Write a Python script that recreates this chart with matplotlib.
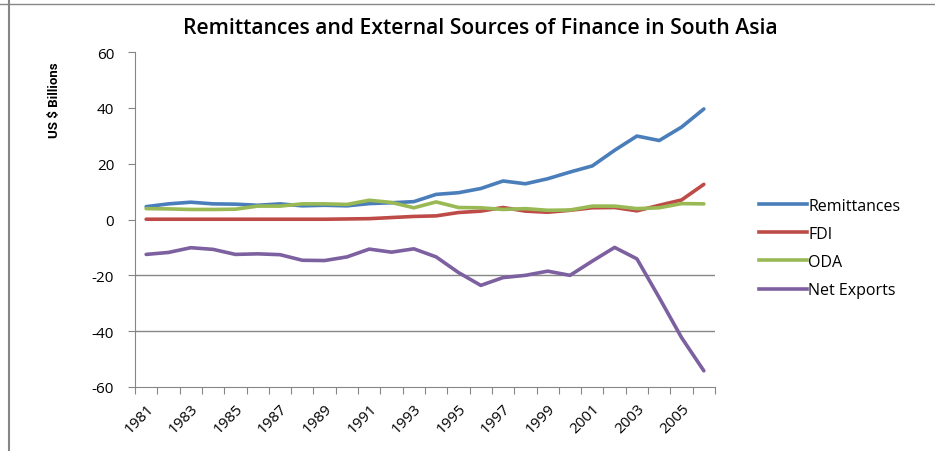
import numpy as np
import matplotlib.pyplot as plt
from matplotlib.lines import Line2D

years = list(range(1981, 2007))

remittances = [4.6, 5.6, 6.2, 5.6, 5.5, 5.1, 5.6, 4.9, 5.1, 4.9, 5.7, 6.0, 6.4,
               9.0, 9.6, 11.1, 13.8, 12.8, 14.6, 17.0, 19.2, 24.8, 29.9, 28.3, 33.1, 39.6]
fdi = [0.1, 0.1, 0.1, 0.1, 0.1, 0.1, 0.1, 0.1, 0.1, 0.2, 0.3, 0.7, 1.1,
       1.3, 2.5, 3.0, 4.3, 3.0, 2.6, 3.3, 4.2, 4.3, 3.1, 5.1, 7.0, 12.6]
oda = [3.9, 3.8, 3.6, 3.6, 3.7, 4.8, 4.8, 5.6, 5.6, 5.4, 6.9, 6.1, 4.2,
       6.3, 4.3, 4.2, 3.6, 3.9, 3.3, 3.4, 4.8, 4.8, 3.9, 4.2, 5.7, 5.6]
net_exports = [-12.5, -11.8, -10.1, -10.7, -12.5, -12.3, -12.6, -14.6, -14.7, -13.4,
               -10.6, -11.7, -10.5, -13.4, -19.0, -23.6, -20.8, -20.0, -18.5, -20.0,
               -14.9, -10.0, -14.1, -28.0, -42.3, -54.2]

series = [('Remittances', remittances, '#4a7ebb'),
          ('FDI', fdi, '#be4b48'),
          ('ODA', oda, '#98b954'),
          ('Net Exports', net_exports, '#7d60a0')]

plt.rcParams['font.family'] = ['Open Sans', 'DejaVu Sans']
plt.rcParams['axes.unicode_minus'] = False

fig = plt.figure(figsize=(9.35, 4.52), dpi=100)
ax = fig.add_axes([0.1444, 0.1416, 0.6203, 0.7411])

x = np.arange(len(years))
for name, vals, color in series:
    ax.plot(x, vals, color=color, lw=2.6, solid_capstyle='round', label=name)

ax.set_xlim(-0.5, len(years) - 0.5)
ax.set_ylim(-60, 60)
ax.set_yticks(range(-60, 61, 20))
ax.tick_params(axis='y', labelsize=11, length=5, color='#868686', pad=10)
ax.set_xticks(np.arange(-0.5, len(years), 1))
ax.set_xticklabels([])
ax.set_xticks(x[::2], minor=True)
ax.set_xticklabels([str(y) for y in years[::2]], minor=True, rotation=45,
                   ha='right', rotation_mode='anchor', fontsize=11)
ax.tick_params(axis='x', which='major', length=5, color='#868686')
ax.tick_params(axis='x', which='minor', length=0, pad=10)

for g in (-20, -40):
    ax.axhline(g, color='#868686', lw=1, zorder=0)

for side in ('top', 'right'):
    ax.spines[side].set_visible(False)
for side in ('left', 'bottom'):
    ax.spines[side].set_color('#868686')

ax.set_ylabel('US $ Billions', fontsize=9.5, fontweight='bold',
              family=['Roboto', 'DejaVu Sans'])
ax.yaxis.set_label_coords(-0.128, 0.86)

fig.suptitle('Remittances and External Sources of Finance in South Asia',
             x=0.514, y=0.96, fontsize=15.2, fontweight='semibold')

handles = [Line2D([], [], color=c, lw=2.6) for _, _, c in series]
fig.legend(handles, [s[0] for s in series], loc='upper left',
           bbox_to_anchor=(0.796, 0.592), frameon=False, fontsize=11.5,
           handlelength=3.0, handletextpad=0.1, labelspacing=0.76)

# outer frame lines (left and top)
fig.add_artist(Line2D([0.0096, 0.0096], [0, 1], color='#868686', lw=1.5,
                      transform=fig.transFigure))
fig.add_artist(Line2D([0, 1], [0.989, 0.989], color='#868686', lw=1,
                      transform=fig.transFigure))

fig.savefig('out.png', dpi=100)
